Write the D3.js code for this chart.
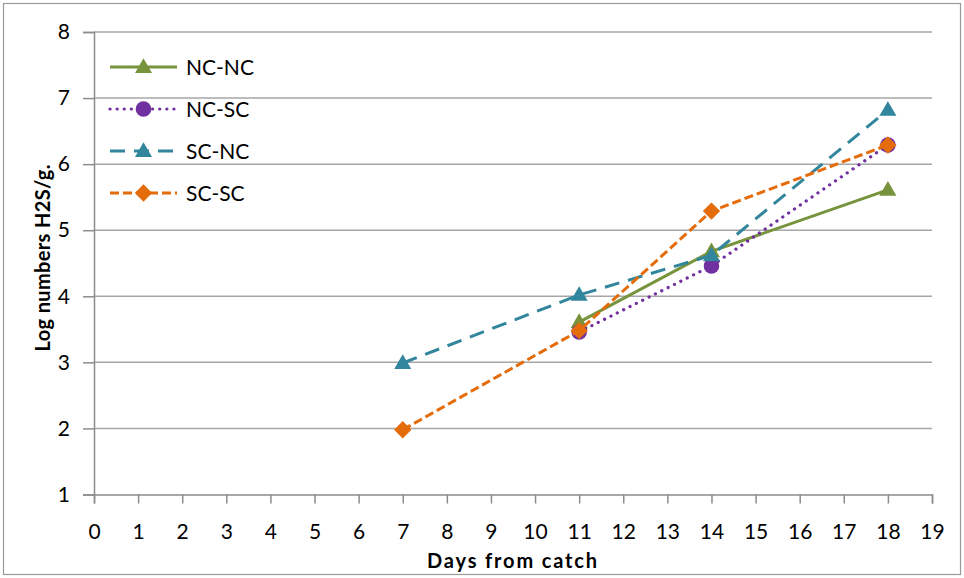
<!DOCTYPE html>
<html>
<head>
<meta charset="utf-8">
<script src="https://cdn.jsdelivr.net/npm/d3@7"></script>
<style>
  html, body { margin: 0; padding: 0; background: #fff; }
  svg { display: block; font-family: Lato, "Open Sans", sans-serif; }
</style>
</head>
<body>
<svg id="chart" width="964" height="578"></svg>
<script>
// Days from catch on which each treatment group was sampled
const daysNCNC = [11, 14, 18];
const valuesNCNC = [3.61, 4.68, 5.61];

const daysNCSC = [11, 14, 18];
const valuesNCSC = [3.46, 4.46, 6.29];

const daysSCNC = [7, 11, 14, 18];
const valuesSCNC = [2.99, 4.02, 4.62, 6.82];

const daysSCSC = [7, 11, 14, 18];
const valuesSCSC = [1.98, 3.48, 5.29, 6.29];

const seriesNames = ["NC-NC", "NC-SC", "SC-NC", "SC-SC"];
const xTicks = d3.range(0, 20);
const yTicks = d3.range(1, 9);

const series = [
  { name: seriesNames[0], days: daysNCNC, values: valuesNCNC, color: "#77933c", dash: null, cap: "butt", marker: "triangle" },
  { name: seriesNames[1], days: daysNCSC, values: valuesNCSC, color: "#7030a0", dash: "0.1,7", cap: "round", marker: "circle" },
  { name: seriesNames[2], days: daysSCNC, values: valuesSCNC, color: "#31859c", dash: "15,9", cap: "butt", marker: "triangle" },
  { name: seriesNames[3], days: daysSCSC, values: valuesSCSC, color: "#e46c0a", dash: "9,4", cap: "butt", marker: "diamond" }
];

const svg = d3.select("#chart");
const W = 964, H = 578;
const m = { left: 94, right: 32, top: 32, bottom: 83.5 };

// outer frame
svg.append("rect")
  .attr("x", 3.5).attr("y", 3.5)
  .attr("width", W - 7).attr("height", H - 7)
  .attr("fill", "#fff").attr("stroke", "#9a9a9a").attr("stroke-width", 1.2);

const x = d3.scaleLinear().domain([0, 19]).range([m.left, W - m.right]);
const y = d3.scaleLinear().domain([1, 8]).range([H - m.bottom, m.top]);

// horizontal gridlines
svg.append("g")
  .selectAll("line")
  .data(yTicks.filter(d => d > 1))
  .join("line")
  .attr("x1", x(0)).attr("x2", x(19))
  .attr("y1", d => y(d)).attr("y2", d => y(d))
  .attr("stroke", "#a6a6a6").attr("stroke-width", 1.5);

// y axis
const yAxis = svg.append("g")
  .attr("transform", `translate(${x(0)},0)`)
  .call(d3.axisLeft(y).tickValues(yTicks).tickFormat(d3.format("d")).tickSize(11).tickPadding(13));
yAxis.select(".domain").attr("stroke", "#8c8c8c").attr("stroke-width", 1.5);
yAxis.selectAll(".tick line").attr("stroke", "#8c8c8c").attr("stroke-width", 1.5);
yAxis.selectAll("text").attr("font-size", 21).attr("fill", "#000").attr("font-family", "Lato, sans-serif");

// x axis
const xAxis = svg.append("g")
  .attr("transform", `translate(0,${y(1)})`)
  .call(d3.axisBottom(x).tickValues(xTicks).tickFormat(d3.format("d")).tickSize(9).tickPadding(21));
xAxis.select(".domain").attr("stroke", "#8c8c8c").attr("stroke-width", 1.5);
xAxis.selectAll(".tick line").attr("stroke", "#8c8c8c").attr("stroke-width", 1.5);
xAxis.selectAll("text").attr("font-size", 21).attr("fill", "#000").attr("font-family", "Lato, sans-serif");

// axis titles
svg.append("text")
  .attr("x", 512).attr("y", 568)
  .attr("text-anchor", "middle")
  .attr("font-size", 20).attr("font-weight", "bold")
  .attr("textLength", 170).attr("lengthAdjust", "spacing")
  .text("Days from catch");

svg.append("text")
  .attr("transform", `translate(50,258) rotate(-90)`)
  .attr("text-anchor", "middle")
  .attr("font-size", 20).attr("font-weight", "bold")
  .attr("textLength", 187).attr("lengthAdjust", "spacing")
  .text("Log numbers H2S/g.");

const line = d3.line().x(d => x(d[0])).y(d => y(d[1]));

function drawMarker(g, type, cx, cy, color) {
  if (type === "circle") {
    g.append("circle").attr("cx", cx).attr("cy", cy).attr("r", 7.8).attr("fill", color);
  } else if (type === "triangle") {
    const s = d3.symbol().type(d3.symbolTriangle).size(125);
    g.append("path").attr("d", s()).attr("transform", `translate(${cx},${cy + 1})`).attr("fill", color);
  } else {
    const s = d3.symbol().type(d3.symbolSquare).size(150);
    g.append("path").attr("d", s()).attr("transform", `translate(${cx},${cy}) rotate(45)`).attr("fill", color);
  }
}

// lines and markers
series.forEach(s => {
  const pts = s.days.map((d, i) => [d, s.values[i]]);
  const g = svg.append("g");
  g.append("path")
    .attr("d", line(pts))
    .attr("fill", "none")
    .attr("stroke", s.color)
    .attr("stroke-width", s.marker === "circle" ? 3.2 : 3)
    .attr("stroke-linecap", s.cap)
    .attr("stroke-dasharray", s.dash);
  pts.forEach(p => drawMarker(g, s.marker, x(p[0]), y(p[1]), s.color));
});

// legend
const legend = svg.append("g");
series.forEach((s, i) => {
  const ly = 67 + i * 42;
  const row = legend.append("g");
  row.append("line")
    .attr("x1", 110).attr("x2", 177).attr("y1", ly).attr("y2", ly)
    .attr("stroke", s.color).attr("stroke-width", s.marker === "circle" ? 3.2 : 3)
    .attr("stroke-linecap", s.cap)
    .attr("stroke-dasharray", s.dash);
  drawMarker(row, s.marker, 143.5, ly, s.color);
  row.append("text")
    .attr("x", 186).attr("y", ly + 8)
    .attr("font-size", 21).attr("fill", "#000")
    .text(s.name);
});
</script>
</body>
</html>
